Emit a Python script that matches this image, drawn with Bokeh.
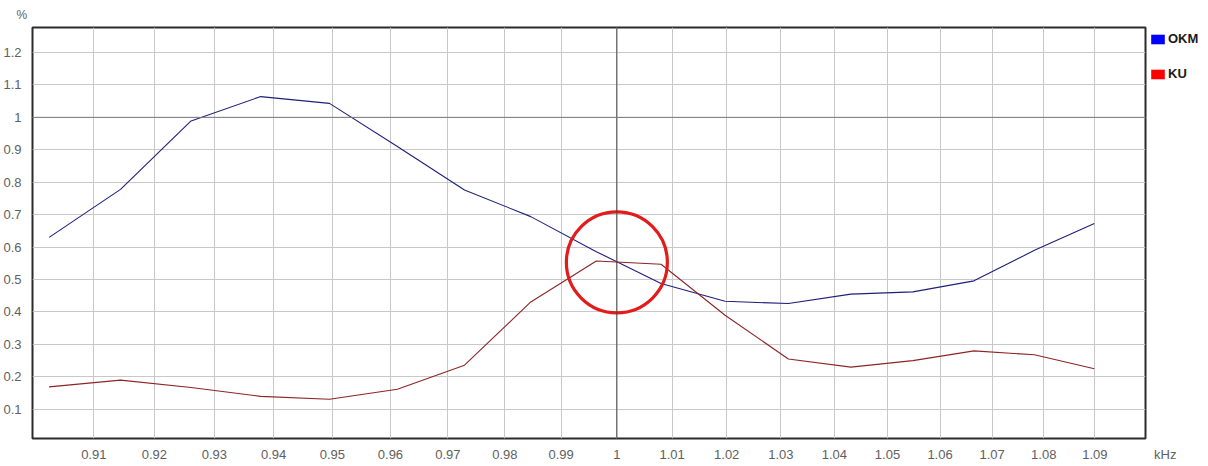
from bokeh.plotting import figure
from bokeh.models import FixedTicker, Span, Legend, LegendItem, Range1d
from bokeh.embed import file_html
from bokeh.resources import INLINE

# ---- data ----
freq_khz = [0.9027, 0.9144, 0.9261, 0.9378, 0.9495, 0.9612, 0.9729, 0.9846, 0.9963,
            1.0080, 1.0197, 1.0314, 1.0431, 1.0548, 1.0665, 1.0782, 1.0899]
okm = [0.630, 0.778, 0.989, 1.064, 1.043, 0.910, 0.776, 0.694, 0.586,
       0.488, 0.433, 0.426, 0.455, 0.462, 0.496, 0.590, 0.673]
ku = [0.169, 0.190, 0.167, 0.140, 0.131, 0.162, 0.236, 0.431, 0.557,
      0.547, 0.390, 0.255, 0.230, 0.250, 0.280, 0.268, 0.225]
series_names = ["OKM", "KU"]

x_ticks = [0.91, 0.92, 0.93, 0.94, 0.95, 0.96, 0.97, 0.98, 0.99, 1.0,
           1.01, 1.02, 1.03, 1.04, 1.05, 1.06, 1.07, 1.08, 1.09]
x_tick_labels = ["0.91", "0.92", "0.93", "0.94", "0.95", "0.96", "0.97", "0.98", "0.99", "1",
                 "1.01", "1.02", "1.03", "1.04", "1.05", "1.06", "1.07", "1.08", "1.09"]
x_unit = "kHz"
y_ticks = [0.1, 0.2, 0.3, 0.4, 0.5, 0.6, 0.7, 0.8, 0.9, 1.0, 1.1, 1.2]
y_tick_labels = ["0.1", "0.2", "0.3", "0.4", "0.5", "0.6", "0.7", "0.8", "0.9", "1", "1.1", "1.2"]
y_unit = "%"

highlight_x = [1.0]
highlight_y = [0.553]

FONT = "Liberation Sans"
TICK_COLOR = "#606060"
X_START, X_END = 0.9, 1.1

p = figure(frame_width=1113, frame_height=411, x_axis_type="log",
           x_range=Range1d(X_START, X_END), y_range=Range1d(0.01, 1.277),
           output_backend="svg", toolbar_location=None,
           min_border_left=24, min_border_right=55, min_border_top=26, min_border_bottom=10)

p.background_fill_color = "white"
p.border_fill_color = "white"
p.outline_line_color = "#2b2b2b"
p.outline_line_width = 2

# axes; the unit "kHz" is written as an extra label at the right end of the x axis
x_axis_ticks = x_ticks + [X_END * 0.99999]
x_axis_labels = x_tick_labels + ["\u00a0" * 11 + x_unit]
p.xaxis.ticker = FixedTicker(ticks=x_axis_ticks)
p.xaxis.major_label_overrides = dict(zip(x_axis_ticks, x_axis_labels))
p.yaxis.ticker = FixedTicker(ticks=y_ticks)
p.yaxis.major_label_overrides = dict(zip(y_ticks, y_tick_labels))
for ax in (p.xaxis, p.yaxis):
    ax.axis_line_color = None
    ax.major_tick_line_color = None
    ax.minor_tick_line_color = None
    ax.major_label_text_font = FONT
    ax.major_label_text_font_size = "13px"
    ax.major_label_text_color = TICK_COLOR
p.xaxis.major_label_standoff = 2
p.yaxis.major_label_standoff = 5

p.xgrid.ticker = FixedTicker(ticks=x_ticks)
p.ygrid.ticker = FixedTicker(ticks=y_ticks)
p.grid.grid_line_color = "#c8c8c8"
p.grid.grid_line_width = 1

# unit of the y axis, above its top-left corner
p.title.text = y_unit
p.title.align = "left"
p.title.offset = -16
p.title.text_font = FONT
p.title.text_font_size = "12px"
p.title.text_font_style = "normal"
p.title.text_color = TICK_COLOR
p.title.standoff = 11

# emphasised reference lines at 1 kHz and 1 %
p.add_layout(Span(location=1.0, dimension="height", line_color="#444444", line_width=1))
p.add_layout(Span(location=1.0, dimension="width", line_color="#7a7a7a", line_width=1))

# series
p.line(freq_khz, okm, line_color="#1f1f7a", line_width=1.1)
p.line(freq_khz, ku, line_color="#8e2424", line_width=1.1)

# highlight circle
p.scatter(highlight_x, highlight_y, marker="circle", size=101, fill_alpha=0,
          line_color="#e21b1b", line_width=3.2)

# legend keys (coloured squares); NaN geometry so nothing is drawn in the plot area
nan = float("nan")
k1 = p.quad(left=[nan], right=[nan], top=[nan], bottom=[nan], fill_color="#0000ff", line_alpha=0)
k2 = p.quad(left=[nan], right=[nan], top=[nan], bottom=[nan], fill_color="#ff0000", line_alpha=0)
legend = Legend(items=[LegendItem(label=series_names[0], renderers=[k1], index=0),
                       LegendItem(label=series_names[1], renderers=[k2], index=0)],
                location="top_left", orientation="vertical",
                margin=4, padding=1, spacing=20,
                glyph_width=17, glyph_height=12, label_standoff=2, label_height=12,
                label_text_font=FONT, label_text_font_style="bold",
                label_text_font_size="13px", label_text_color="#1a1a1a",
                border_line_color=None, background_fill_alpha=0)
p.add_layout(legend, "right")

open("out.html", "w").write(file_html(p, INLINE))
